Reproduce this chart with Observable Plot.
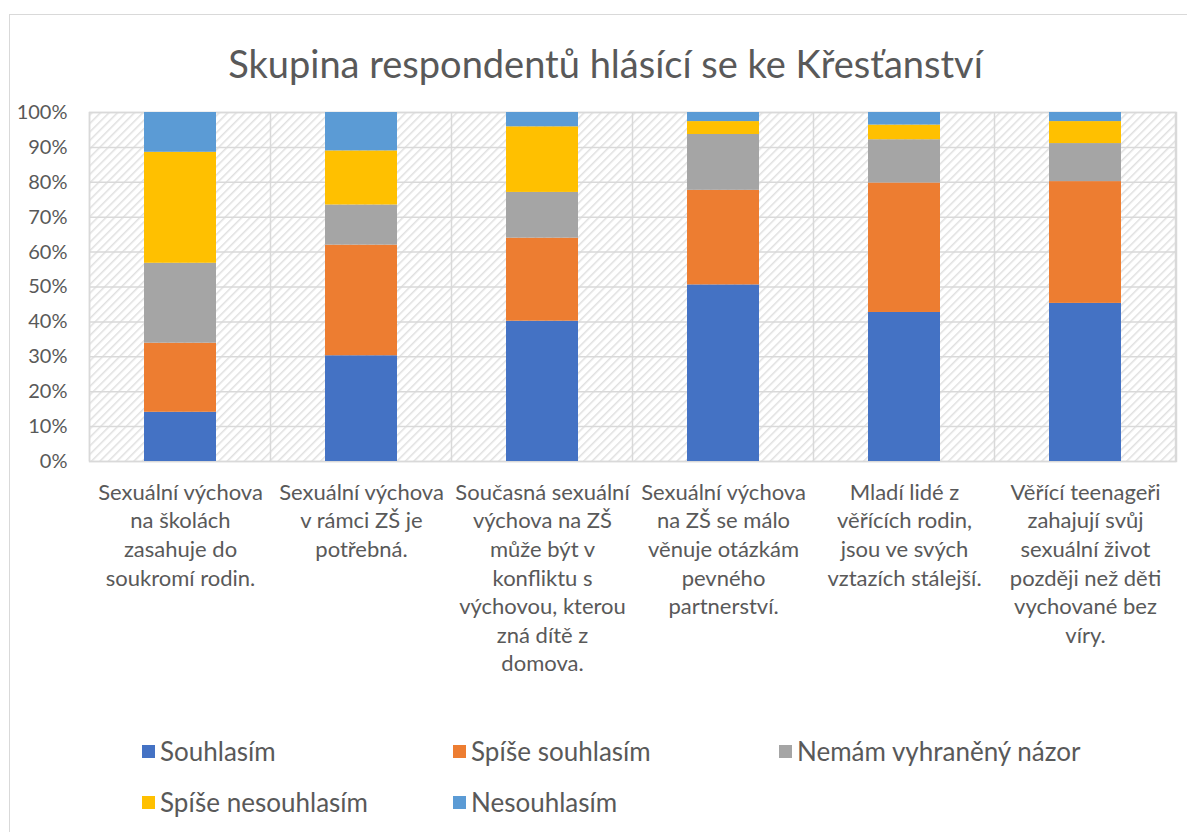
<!DOCTYPE html>
<html>
<head>
<meta charset="utf-8">
<script src="https://cdn.jsdelivr.net/npm/d3@7"></script>
<script src="https://cdn.jsdelivr.net/npm/@observablehq/plot@0.6"></script>
<style>
  html, body { margin: 0; padding: 0; background: #fff; overflow: hidden; }
  body { width: 1187px; height: 832px; position: relative; font-family: Lato, "Open Sans", sans-serif; color: #595959; }
  #frame { position: absolute; left: 9px; top: 14px; width: 1200px; height: 850px; border: 1.5px solid #d9d9d9; box-sizing: border-box; }
  #title { position: absolute; left: 0; width: 1211px; top: 38px; text-align: center; font-size: 38px; line-height: 50px; white-space: nowrap; }
  #chart { position: absolute; left: 0; top: 0; }
  .leg { position: absolute; display: flex; align-items: center; font-size: 26px; white-space: nowrap; }
  .leg i { display: inline-block; width: 13px; height: 13px; margin-right: 5px; }
</style>
</head>
<body>
<div id="frame"></div>
<div id="title"></div>
<div id="chart"></div>
<div id="legend"></div>
<script>
const title = "Skupina respondentů hlásící se ke Křesťanství";
const categories = [
  "Sexuální výchova na školách zasahuje do soukromí rodin.",
  "Sexuální výchova v rámci ZŠ je potřebná.",
  "Současná sexuální výchova na ZŠ může být v konfliktu s výchovou, kterou zná dítě z domova.",
  "Sexuální výchova na ZŠ se málo věnuje otázkám pevného partnerství.",
  "Mladí lidé z věřících rodin, jsou ve svých vztazích stálejší.",
  "Věřící teenageři zahajují svůj sexuální život později než děti vychované bez víry."
];
const categoryLabels = [
  "Sexuální výchova\nna školách\nzasahuje do\nsoukromí rodin.",
  "Sexuální výchova\nv rámci ZŠ je\npotřebná.",
  "Současná sexuální\nvýchova na ZŠ\nmůže být v\nkonfliktu s\nvýchovou, kterou\nzná dítě z\ndomova.",
  "Sexuální výchova\nna ZŠ se málo\nvěnuje otázkám\npevného\npartnerství.",
  "Mladí lidé z\nvěřících rodin,\njsou ve svých\nvztazích stálejší.",
  "Věřící teenageři\nzahajují svůj\nsexuální život\npozději než děti\nvychované bez\nvíry."
];
const responses = ["Souhlasím", "Spíše souhlasím", "Nemám vyhraněný názor", "Spíše nesouhlasím", "Nesouhlasím"];
const colors = ["#4472C4", "#ED7D31", "#A5A5A5", "#FFC000", "#5B9BD5"];
const souhlasim        = [14.1, 30.3, 40.2, 50.6, 42.7, 45.3];
const spiseSouhlasim   = [19.8, 31.7, 23.8, 27.1, 37.1, 34.9];
const nemamNazor       = [22.9, 11.5, 13.1, 16.0, 12.4, 10.9];
const spiseNesouhlasim = [31.8, 15.5, 18.8,  3.7,  4.2,  6.3];
const nesouhlasim      = [11.4, 11.0,  4.1,  2.6,  3.6,  2.6];
const yTicks = [0, 10, 20, 30, 40, 50, 60, 70, 80, 90, 100];

const series = [souhlasim, spiseSouhlasim, nemamNazor, spiseNesouhlasim, nesouhlasim];
const data = [];
responses.forEach((r, si) => categories.forEach((c, ci) => data.push({category: c, response: r, value: series[si][ci]})));

document.getElementById("title").textContent = title;

const gridColor = "#d9d9d9";

function background(index, scales, values, dimensions) {
  const {marginLeft, marginRight, marginTop, marginBottom, width, height} = dimensions;
  const g = d3.create("svg:g");
  const defs = g.append("defs");
  const pat = defs.append("pattern").attr("id", "hatch").attr("patternUnits", "userSpaceOnUse")
    .attr("width", 6).attr("height", 6).attr("patternTransform", "rotate(45)");
  pat.append("rect").attr("width", 6).attr("height", 6).attr("fill", "#fff");
  pat.append("line").attr("x1", 0).attr("y1", 0).attr("x2", 0).attr("y2", 6)
    .attr("stroke", "#e0e0e0").attr("stroke-width", 3);
  g.append("rect").attr("x", marginLeft).attr("y", marginTop)
    .attr("width", width - marginLeft - marginRight).attr("height", height - marginTop - marginBottom)
    .attr("fill", "url(#hatch)");
  const x = scales.x;
  const step = x(categories[1]) - x(categories[0]);
  const bw = x.bandwidth();
  const bounds = categories.map(c => x(c) - (step - bw) / 2);
  bounds.push(bounds[bounds.length - 1] + step);
  bounds.forEach(b => g.append("line").attr("x1", b).attr("x2", b)
    .attr("y1", marginTop).attr("y2", height - marginBottom)
    .attr("stroke", gridColor).attr("stroke-width", 1.5));
  return g.node();
}

const chart = Plot.plot({
  width: 1187,
  height: 700,
  marginLeft: 89,
  marginRight: 11,
  marginTop: 112,
  marginBottom: 239,
  style: {fontFamily: "Lato, 'Open Sans', sans-serif", fontSize: "20px", color: "#595959", background: "transparent", overflow: "visible"},
  x: {domain: categories, paddingInner: 0.6, paddingOuter: 0.3, align: 0.5, label: null},
  y: {domain: [0, 100], label: null},
  color: {domain: responses, range: colors},
  marks: [
    background,
    Plot.gridY(yTicks, {stroke: gridColor, strokeOpacity: 1, strokeWidth: 1.5}),
    Plot.frame({stroke: gridColor, strokeWidth: 1.5}),
    Plot.barY(data, {x: "category", y: "value", fill: "response"}),
    Plot.axisY(yTicks, {tickSize: 0, tickPadding: 22, tickFormat: d => d + "%", label: null, fill: "#595959", fontSize: 20}),
    Plot.axisX({tickSize: 0, tickPadding: 18, tickFormat: (d) => categoryLabels[categories.indexOf(d)], lineHeight: 1.3, label: null, fill: "#595959", fontSize: 22})
  ]
});
document.getElementById("chart").appendChild(chart);

const legendPos = [[142, 751], [453, 751], [779, 751], [142, 802], [453, 802]];
const legend = document.getElementById("legend");
responses.forEach((r, i) => {
  const d = document.createElement("div");
  d.className = "leg";
  d.style.left = legendPos[i][0] + "px";
  d.style.top = (legendPos[i][1] - 17) + "px";
  d.style.height = "34px";
  d.innerHTML = `<i style="background:${colors[i]}"></i><span>${r}</span>`;
  legend.appendChild(d);
});
</script>
</body>
</html>
